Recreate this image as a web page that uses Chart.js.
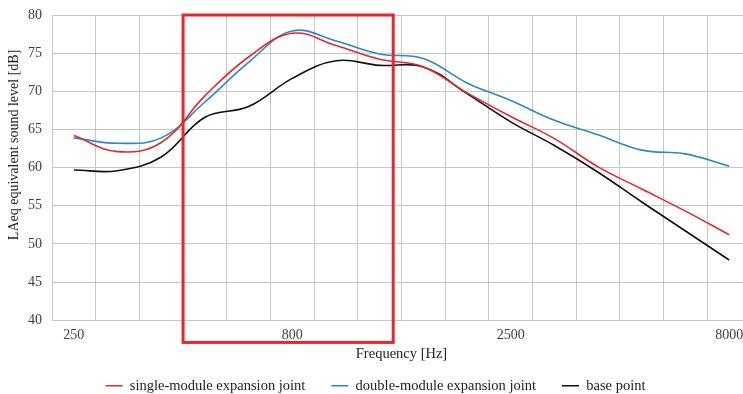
<!DOCTYPE html>
<html>
<head>
<meta charset="utf-8">
<script src="https://cdn.jsdelivr.net/npm/chart.js@4/dist/chart.umd.min.js"></script>
<style>
    html, body { margin: 0; padding: 0; background: #fff; overflow: hidden; }
    #wrap { position: relative; width: 762px; height: 394px; }
</style>
</head>
<body>
<div id="wrap"><canvas id="charts-freq"></canvas></div>
<script>
// third-octave bands [Hz]
const bands = ['250', '315', '400', '500', '630', '800', '1000', '1250', '1600', '2000', '2500', '3150', '4000', '5000', '6300', '8000'];
// LAeq [dB]
const singleModule = [64.2, 62.1, 63.3, 69.4, 74.5, 77.6, 76.0, 74.2, 73.2, 69.8, 66.7, 63.8, 60.1, 57.2, 54.3, 51.2];
const doubleModule = [63.9, 63.2, 63.9, 68.6, 73.8, 77.9, 76.6, 74.9, 74.3, 71.1, 68.8, 66.2, 64.3, 62.3, 61.8, 60.2];
const basePoint = [59.7, 59.6, 61.4, 66.6, 68.0, 71.7, 74.0, 73.4, 73.2, 69.7, 66.0, 62.9, 59.4, 55.5, 51.7, 47.9];
const shownBands = ['250', '800', '2500', '8000'];
// highlighted band range (category index units, dB)
const boxRange = {from: 2.5, to: 7.31, top: 80, bottom: 37.1};

const serif = "'Liberation Serif', 'Times New Roman', serif";
const textColor = '#404040';
const gridColor = '#c6c6c6';

const boxPlugin = {
    id: 'bandBox',
    afterDraw(chart) {
        const x = chart.scales.x, y = chart.scales.y;
        const ctx = chart.ctx;
        const x1 = x.getPixelForValue(boxRange.from);
        const x2 = x.getPixelForValue(boxRange.to);
        const y1 = y.getPixelForValue(boxRange.top);
        const y2 = y.getPixelForValue(boxRange.bottom);
        ctx.save();
        ctx.strokeStyle = '#e8262d';
        ctx.lineWidth = 3;
        ctx.strokeRect(x1, y1, x2 - x1, y2 - y1);
        ctx.restore();
    }
};

function lineSet(label, data, color) {
    return {
        label: label,
        data: data,
        borderColor: color,
        backgroundColor: color,
        borderWidth: 1.6,
        pointRadius: 0,
        tension: 0.4,
        fill: false
    };
}

var config = {
    type: 'line',
    data: {
        labels: bands,
        datasets: [
            lineSet('single-module expansion joint', singleModule, '#e8262d'),
            lineSet('double-module expansion joint', doubleModule, '#2a88cc'),
            lineSet('base point', basePoint, '#111111')
        ]
    },
    options: {
        responsive: true,
        maintainAspectRatio: false,
        animation: false,
        layout: { padding: { left: 0, right: 11, top: 15, bottom: -9 } },
        plugins: {
            title: { display: false },
            tooltip: { enabled: false },
            legend: {
                position: 'bottom',
                labels: {
                    usePointStyle: true,
                    pointStyle: 'line',
                    pointStyleWidth: 17,
                    color: '#222',
                    font: { family: serif, size: 14.5 },
                    padding: 26
                }
            }
        },
        scales: {
            x: {
                offset: true,
                grid: { color: gridColor, drawTicks: false, offset: true },
                border: { display: false },
                ticks: {
                    autoSkip: false,
                    maxRotation: 0,
                    padding: 7,
                    color: textColor,
                    font: { family: serif, size: 14 },
                    callback: function(v, i) { return shownBands.includes(bands[i]) ? bands[i] : ''; }
                },
                title: {
                    display: true,
                    text: 'Frequency [Hz]',
                    color: '#222',
                    font: { family: serif, size: 14.5 },
                    padding: { top: -6, bottom: -10 }
                }
            },
            y: {
                min: 40,
                max: 80,
                afterFit: function(s) { s.width = 52; s.paddingTop = 0; s.paddingBottom = 0; },
                grid: { color: gridColor, drawTicks: false },
                border: { display: false },
                ticks: {
                    stepSize: 5,
                    padding: 10,
                    color: textColor,
                    font: { family: serif, size: 14 }
                },
                title: {
                    display: true,
                    // leading spaces push the label up a little, like the original
                    text: ' '.repeat(13) + 'LAeq equivalent sound level [dB]',
                    color: '#222',
                    font: { family: serif, size: 14 },
                    padding: { top: 6, bottom: 0 }
                }
            }
        }
    },
    plugins: [boxPlugin]
};

new Chart(document.getElementById('charts-freq'), config);
</script>
</body>
</html>
